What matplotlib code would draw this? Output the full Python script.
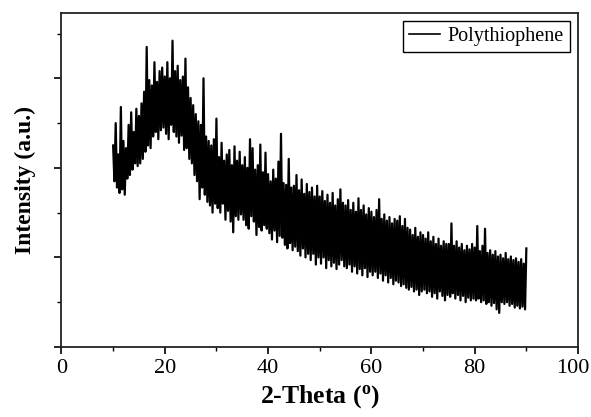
import numpy as np
import matplotlib
matplotlib.use("Agg")
import matplotlib.pyplot as plt
import matplotlib.transforms as mtransforms
from matplotlib.ticker import MultipleLocator

plt.rcParams['font.family'] = ['Liberation Serif', 'DejaVu Serif']

# intensity, one value every 0.25 deg from 10 to 90
intensity = [
    225, 185, 250, 178, 215, 172, 268, 176, 230, 170, 222, 188, 248, 192, 262, 198, 240, 205, 266, 202,
    258, 205, 272, 210, 285, 218, 335, 225, 298, 222, 292, 235, 318, 240, 296, 232, 308, 242, 312, 245,
    302, 238, 318, 232, 300, 248, 342, 240, 308, 235, 314, 228, 298, 236, 302, 220, 322, 222, 290, 210,
    278, 205, 270, 192, 260, 185, 252, 165, 248, 178, 300, 170, 235, 162, 230, 158, 225, 150, 232, 160,
    255, 155, 212, 150, 228, 160, 208, 142, 215, 152, 220, 140, 203, 128, 224, 146, 208, 142, 218, 148,
    203, 142, 212, 136, 200, 132, 232, 146, 222, 140, 198, 125, 203, 134, 226, 130, 195, 136, 217, 132,
    193, 127, 185, 120, 198, 130, 188, 117, 207, 124, 238, 122, 183, 114, 181, 110, 210, 116, 178, 108,
    180, 112, 192, 107, 175, 102, 187, 110, 171, 100, 182, 104, 173, 97, 178, 104, 168, 92, 180, 100,
    168, 93, 174, 100, 163, 88, 170, 97, 161, 90, 172, 94, 158, 87, 165, 92, 176, 97, 161, 90,
    158, 88, 164, 92, 153, 84, 161, 90, 151, 82, 166, 87, 153, 80, 158, 88, 148, 78, 155, 84,
    151, 80, 145, 84, 153, 77, 165, 82, 143, 74, 148, 80, 141, 72, 145, 77, 138, 70, 143, 74,
    141, 72, 146, 68, 135, 70, 143, 66, 133, 64, 131, 67, 125, 62, 133, 64, 123, 58, 128, 62,
    125, 64, 121, 60, 128, 62, 118, 56, 123, 60, 115, 54, 121, 62, 113, 57, 118, 52, 115, 58,
    115, 56, 138, 60, 113, 54, 118, 58, 111, 52, 115, 57, 108, 50, 113, 55, 109, 52, 115, 54,
    111, 52, 135, 54, 107, 50, 113, 52, 132, 48, 105, 50, 108, 46, 103, 49, 107, 42, 101, 38,
    103, 50, 99, 48, 105, 50, 98, 46, 101, 48, 97, 44, 99, 46, 95, 43, 98, 45, 93, 42,
    110,
]
two_theta = np.linspace(10, 90, len(intensity))
x_ticks = [0, 20, 40, 60, 80, 100]

fig = plt.figure(figsize=(5.91, 4.17), dpi=100)
ax = fig.add_axes([0.104, 0.168, 0.874, 0.801])

ax.plot(two_theta, intensity, color='black', lw=1.6, label='Polythiophene')

ax.set_xlim(0, 100)
ax.set_ylim(0, 373)
ax.set_xticks(x_ticks)
ax.xaxis.set_minor_locator(MultipleLocator(10))
ax.yaxis.set_major_locator(MultipleLocator(100))
ax.yaxis.set_minor_locator(MultipleLocator(50))
ax.set_yticklabels([])
ax.tick_params(which='major', direction='out', length=5, width=1.2, labelsize=16)
ax.tick_params(which='minor', direction='out', length=3, width=1.0)
for s in ax.spines.values():
    s.set_linewidth(1.3)
    s.set_color('#222222')

# "100" sits a little left so it stays inside the picture
last = ax.get_xticklabels()[-1]
last.set_transform(last.get_transform() + mtransforms.ScaledTranslation(-5 / 100, 0, fig.dpi_scale_trans))

ax.set_xlabel('2-Theta ($\\mathregular{^o}$)', fontsize=18.5, fontweight='bold', labelpad=4)
ax.set_ylabel('Intensity (a.u.)', fontsize=17, fontweight='bold', labelpad=10)

leg = ax.legend(loc='upper right', fontsize=14.5, fancybox=False, framealpha=1,
                edgecolor='black', handlelength=1.5, borderpad=0.3,
                borderaxespad=0.4, handletextpad=0.4)
leg.get_frame().set_linewidth(1.0)
leg.get_lines()[0].set_linewidth(1.2)

fig.savefig('out.png', dpi=100)
